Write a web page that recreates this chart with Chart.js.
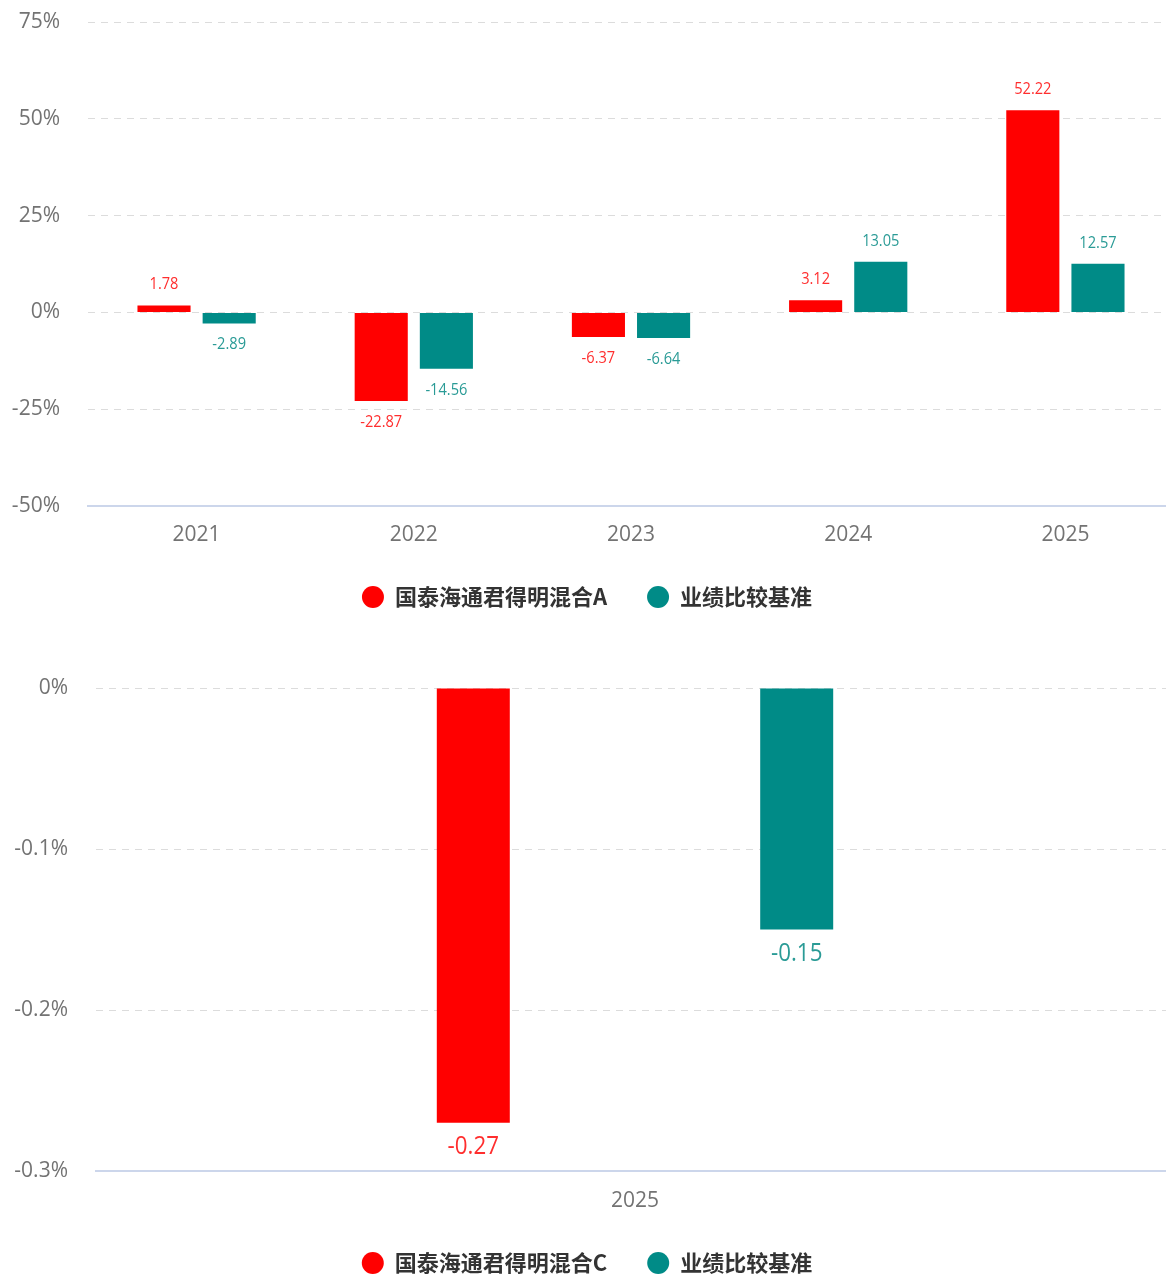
<!DOCTYPE html>
<html>
<head>
<meta charset="utf-8">
<script src="https://cdn.jsdelivr.net/npm/chart.js@4.4.1/dist/chart.umd.min.js"></script>
<style>
  html, body { margin: 0; padding: 0; background: #fff; overflow: hidden; }
  .wrap { position: relative; width: 1174px; }
  #box-a { height: 630px; }
  #box-c { height: 666px; }
</style>
</head>
<body>
<div class="wrap" id="box-a"><canvas id="chart-a"></canvas></div>
<div class="wrap" id="box-c"><canvas id="chart-c"></canvas></div>
<script>
/* ---- data ---------------------------------------------------------- */
const yearsA     = ["2021", "2022", "2023", "2024", "2025"];
const fundA      = [1.78, -22.87, -6.37, 3.12, 52.22];
const benchA     = [-2.89, -14.56, -6.64, 13.05, 12.57];

const yearsC     = ["2025"];
const fundC      = [-0.27];
const benchC     = [-0.15];

const nameA      = "国泰海通君得明混合A";
const nameC      = "国泰海通君得明混合C";
const nameBench  = "业绩比较基准";

/* ---- colours -------------------------------------------------------- */
const C_RED        = "#ff0000";
const C_TEAL       = "#008b87";
const C_RED_TXT    = "#ff2e2e";
const C_TEAL_TXT   = "#2a9b96";
const C_TICK       = "#737373";
const C_GRID       = "#dcdcdc";
const C_AXIS       = "#ccd6eb";

Chart.defaults.font.family = "'Open Sans', 'Noto Sans CJK SC', sans-serif";

/* value labels above / below each bar, slightly condensed */
const valueLabels = {
  id: "valueLabels",
  afterDatasetsDraw(chart, args, opts) {
    const ctx = chart.ctx;
    chart.data.datasets.forEach((ds, di) => {
      const meta = chart.getDatasetMeta(di);
      meta.data.forEach((bar, i) => {
        const v = ds.data[i];
        const y = v >= 0 ? bar.y - opts.offset : bar.y + opts.offset;
        ctx.save();
        ctx.translate(bar.x, y);
        ctx.scale(0.86, 1);
        ctx.font = opts.size + "px 'Open Sans', sans-serif";
        ctx.fillStyle = ds.labelColor;
        ctx.textAlign = "center";
        ctx.textBaseline = "middle";
        ctx.fillText(v.toFixed(2), 0, 0);
        ctx.restore();
      });
    });
  },
};

function makeChart(id, cfg) {
  return new Chart(document.getElementById(id), {
    type: "bar",
    data: {
      labels: cfg.labels,
      datasets: [
        { label: cfg.fundName, data: cfg.fund, backgroundColor: C_RED, labelColor: C_RED_TXT,
          categoryPercentage: 0.6, barPercentage: cfg.barPct, maxBarThickness: cfg.maxBar },
        { label: nameBench, data: cfg.bench, backgroundColor: C_TEAL, labelColor: C_TEAL_TXT,
          categoryPercentage: 0.6, barPercentage: cfg.barPct, maxBarThickness: cfg.maxBar },
      ],
    },
    options: {
      responsive: true,
      maintainAspectRatio: false,
      animation: false,
      layout: { padding: { top: cfg.padTop, bottom: 12, right: 0, left: 0 } },
      plugins: {
        tooltip: { enabled: false },
        legend: {
          position: "bottom",
          labels: {
            usePointStyle: true,
            pointStyle: "circle",
            boxHeight: 15.5,
            pointStyleWidth: 22,
            padding: 40,
            color: "#333",
            font: { size: 22, weight: "bold", family: "'Noto Sans CJK SC', sans-serif" },
          },
        },
        valueLabels: { offset: cfg.labelOffset, size: cfg.labelSize },
      },
      scales: {
        x: {
          grid: { display: false, drawTicks: false },
          border: { display: true, color: C_AXIS, width: 2 },
          ticks: { color: C_TICK, font: { size: 21 }, padding: cfg.xPad },
          afterFit: (s) => { s.height = cfg.xHeight; },
        },
        y: {
          min: cfg.min, max: cfg.max,
          ticks: {
            stepSize: cfg.step,
            color: C_TICK,
            font: { size: 21 },
            padding: 28,
            callback: cfg.tickFmt,
          },
          grid: {
            drawTicks: false,
            color: (c) => (c.tick && Math.abs(c.tick.value - cfg.min) < 1e-9 ? "rgba(0,0,0,0)" : C_GRID),
          },
          border: { display: false, dash: [7, 6] },
          afterFit: (s) => {
            s.width = cfg.yWidth;
            s.paddingTop = 14;
            s.paddingBottom = 14;
          },
        },
      },
    },
    plugins: [valueLabels],
  });
}

makeChart("chart-a", {
  labels: yearsA, fund: fundA, bench: benchA, fundName: nameA,
  barPct: 0.815, maxBar: undefined,
  min: -50, max: 75, step: 25,
  tickFmt: (v) => v + "%",
  padTop: 22, xHeight: 40, xPad: 16, yWidth: 88,
  labelOffset: 21, labelSize: 17,
});

makeChart("chart-c", {
  labels: yearsC, fund: fundC, bench: benchC, fundName: nameC,
  barPct: 0.8, maxBar: 73,
  min: -0.3, max: 0, step: 0.1,
  tickFmt: (v) => (+v.toFixed(1)) + "%",
  padTop: 58, xHeight: 41, xPad: 17, yWidth: 96,
  labelOffset: 24, labelSize: 26,
});
</script>
</body>
</html>
